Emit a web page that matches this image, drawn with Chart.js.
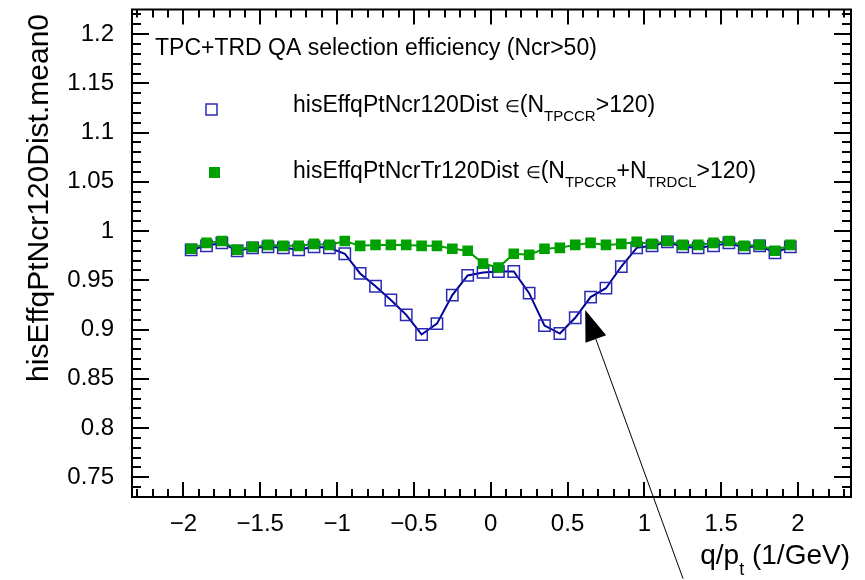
<!DOCTYPE html>
<html>
<head>
<meta charset="utf-8">
<script src="https://cdn.jsdelivr.net/npm/chart.js@4.4.1/dist/chart.umd.min.js"></script>
<style>
  html, body { margin: 0; padding: 0; background: #fff; }
  #wrap { width: 865px; height: 580px; }
</style>
</head>
<body>
<div id="wrap"><canvas id="chart" width="865" height="580"></canvas></div>
<script>
// bin centres in q/pt (1/GeV)
const qOverPt = [
  -1.95, -1.85, -1.75, -1.65, -1.55, -1.45, -1.35, -1.25, -1.15, -1.05,
  -0.95, -0.85, -0.75, -0.65, -0.55, -0.45, -0.35, -0.25, -0.15, -0.05,
   0.05,  0.15,  0.25,  0.35,  0.45,  0.55,  0.65,  0.75,  0.85,  0.95,
   1.05,  1.15,  1.25,  1.35,  1.45,  1.55,  1.65,  1.75,  1.85,  1.95
];

// hisEffqPtNcr120Dist (open blue squares)
const effNcr120 = [
  0.981, 0.985, 0.988, 0.980, 0.983, 0.984, 0.983, 0.981, 0.984, 0.983,
  0.977, 0.957, 0.944, 0.930, 0.915, 0.895, 0.906, 0.935, 0.955, 0.958,
  0.959, 0.959, 0.937, 0.904, 0.896, 0.912, 0.933, 0.942, 0.964, 0.983,
  0.985, 0.989, 0.984, 0.983, 0.985, 0.988, 0.983, 0.985, 0.978, 0.984
];

// hisEffqPtNcrTr120Dist (filled green squares)
const effNcrTr120 = [
  0.982, 0.988, 0.990, 0.981, 0.984, 0.986, 0.985, 0.985, 0.987, 0.986,
  0.990, 0.985, 0.986, 0.986, 0.986, 0.985, 0.985, 0.982, 0.980, 0.967,
  0.963, 0.977, 0.976, 0.982, 0.983, 0.986, 0.988, 0.986, 0.987, 0.989,
  0.987, 0.990, 0.986, 0.986, 0.988, 0.990, 0.985, 0.986, 0.980, 0.986
];

const xTickLabels = [-2, -1.5, -1, -0.5, 0, 0.5, 1, 1.5, 2];
const yTickLabels = [0.75, 0.8, 0.85, 0.9, 0.95, 1, 1.05, 1.1, 1.15, 1.2];

// arrow annotation, tip and tail in data coordinates
const arrowTip = { x: 0.615, y: 0.920 };
const arrowTail = { x: 1.252, y: 0.647 };

const FONT = "'Liberation Sans', Arial, Helvetica, sans-serif";

function toPoints(xs, ys) {
  return xs.map((x, i) => ({ x: x, y: ys[i] }));
}

function fmt(v) {
  return v < 0 ? '\u2212' + String(-v) : String(v);
}

function pieceSize(p, size) {
  if (p.sub) return Math.round(size * 0.65);
  if (p.small) return Math.round(size * 0.75);
  return size;
}

// draws text pieces left to right, pieces with sub:true are subscripts
function drawRich(ctx, pieces, x, y, size) {
  let cx = x;
  pieces.forEach(p => {
    ctx.font = pieceSize(p, size) + 'px ' + FONT;
    ctx.fillText(p.t, cx, p.sub ? y + size * 0.38 : y);
    cx += ctx.measureText(p.t).width;
  });
  return cx;
}

function richWidth(ctx, pieces, size) {
  let w = 0;
  pieces.forEach(p => {
    ctx.font = pieceSize(p, size) + 'px ' + FONT;
    w += ctx.measureText(p.t).width;
  });
  return w;
}

function noPad(axis) {
  axis.paddingTop = 0;
  axis.paddingBottom = 0;
  axis.paddingLeft = 0;
  axis.paddingRight = 0;
}

const rootFrame = {
  id: 'rootFrame',
  afterDraw(chart) {
    const ctx = chart.ctx;
    const a = chart.chartArea;
    const xs = chart.scales.x;
    const ys = chart.scales.y;
    ctx.save();
    ctx.strokeStyle = '#000';
    ctx.fillStyle = '#000';

    // frame
    ctx.lineWidth = 2;
    ctx.strokeRect(a.left, a.top, a.right - a.left, a.bottom - a.top);

    // ticks, pointing inwards, on all four sides
    ctx.lineWidth = 2;
    ctx.beginPath();
    for (let i = -24; i <= 24; i++) {
      const v = i / 10;
      if (v < xs.min || v > xs.max) continue;
      const px = Math.round(xs.getPixelForValue(v));
      const len = i % 5 === 0 ? 15 : 8;
      ctx.moveTo(px, a.bottom); ctx.lineTo(px, a.bottom - len);
      ctx.moveTo(px, a.top); ctx.lineTo(px, a.top + len);
    }
    for (let i = 72; i <= 123; i++) {
      const v = i / 100;
      if (v < ys.min || v > ys.max) continue;
      const py = Math.round(ys.getPixelForValue(v));
      const len = i % 5 === 0 ? 17 : 9;
      ctx.moveTo(a.left, py); ctx.lineTo(a.left + len, py);
      ctx.moveTo(a.right, py); ctx.lineTo(a.right - len, py);
    }
    ctx.stroke();

    // y axis title
    ctx.save();
    ctx.translate(40, 14);
    ctx.rotate(-Math.PI / 2);
    ctx.font = '30px ' + FONT;
    ctx.textAlign = 'right';
    ctx.textBaseline = 'middle';
    ctx.fillText('hisEffqPtNcr120Dist.mean0', 0, 0);
    ctx.restore();

    // x axis title, right aligned
    ctx.textAlign = 'left';
    ctx.textBaseline = 'alphabetic';
    const xTitle = [{ t: 'q/p' }, { t: 't', sub: true }, { t: ' (1/GeV)' }];
    const w = richWidth(ctx, xTitle, 28);
    drawRich(ctx, xTitle, 850 - w, 564, 28);

    // legend block
    ctx.font = '23px ' + FONT;
    ctx.fillText('TPC+TRD QA selection efficiency (Ncr>50)', 155, 55);

    ctx.lineWidth = 1.5;
    ctx.strokeStyle = '#2a2ab5';
    ctx.strokeRect(206, 104, 11, 11);
    ctx.fillStyle = '#00a000';
    ctx.fillRect(209, 167, 11, 11);

    ctx.fillStyle = '#000';
    drawRich(ctx, [
      { t: 'hisEffqPtNcr120Dist ' }, { t: '\u2208', small: true }, { t: '(N' },
      { t: 'TPCCR', sub: true }, { t: '>120)' }
    ], 293, 112, 23);
    drawRich(ctx, [
      { t: 'hisEffqPtNcrTr120Dist ' }, { t: '\u2208', small: true }, { t: '(N' },
      { t: 'TPCCR', sub: true }, { t: '+N' }, { t: 'TRDCL', sub: true }, { t: '>120)' }
    ], 293, 178, 23);

    // arrow
    const tx = xs.getPixelForValue(arrowTip.x), ty = ys.getPixelForValue(arrowTip.y);
    const bx = xs.getPixelForValue(arrowTail.x), by = ys.getPixelForValue(arrowTail.y);
    const dx = tx - bx, dy = ty - by;
    const d = Math.hypot(dx, dy);
    const ux = dx / d, uy = dy / d;
    const hl = 31, hw = 11;
    const mx = tx - ux * hl, my = ty - uy * hl;
    ctx.strokeStyle = '#000';
    ctx.lineWidth = 1;
    ctx.beginPath();
    ctx.moveTo(bx, by); ctx.lineTo(mx, my);
    ctx.stroke();
    ctx.beginPath();
    ctx.moveTo(tx, ty);
    ctx.lineTo(mx - uy * hw, my + ux * hw);
    ctx.lineTo(mx + uy * hw, my - ux * hw);
    ctx.closePath();
    ctx.fill();

    ctx.restore();
  }
};

new Chart(document.getElementById('chart').getContext('2d'), {
  type: 'scatter',
  data: {
    datasets: [
      {
        label: 'hisEffqPtNcrTr120Dist',
        data: toPoints(qOverPt, effNcrTr120),
        showLine: true,
        tension: 0,
        borderColor: '#00a000',
        borderWidth: 2,
        pointStyle: 'rect',
        pointRadius: 7.5,
        pointBackgroundColor: '#00a000',
        pointBorderColor: '#00a000',
        pointBorderWidth: 0,
        order: 0
      },
      {
        label: 'hisEffqPtNcr120Dist',
        data: toPoints(qOverPt, effNcr120),
        showLine: true,
        tension: 0,
        borderColor: '#000099',
        borderWidth: 2,
        pointStyle: 'rect',
        pointRadius: 8,
        pointBackgroundColor: 'rgba(0,0,0,0)',
        pointBorderColor: '#2a2ab5',
        pointBorderWidth: 1.5,
        order: 1
      }
    ]
  },
  options: {
    responsive: false,
    animation: false,
    devicePixelRatio: 1,
    layout: { padding: { top: 5, right: 14, left: 0, bottom: 0 } },
    plugins: {
      legend: { display: false },
      tooltip: { enabled: false }
    },
    scales: {
      x: {
        type: 'linear',
        min: -2.335,
        max: 2.345,
        grid: { display: false },
        border: { display: false },
        afterBuildTicks: axis => { axis.ticks = xTickLabels.map(v => ({ value: v })); },
        afterFit: axis => { axis.height = 83; noPad(axis); },
        ticks: {
          color: '#000',
          font: { size: 24, family: FONT },
          padding: 5,
          maxRotation: 0,
          autoSkip: false,
          callback: v => fmt(v)
        }
      },
      y: {
        type: 'linear',
        min: 0.730,
        max: 1.225,
        grid: { display: false },
        border: { display: false },
        afterBuildTicks: axis => { axis.ticks = yTickLabels.map(v => ({ value: v })); },
        afterFit: axis => { axis.width = 132; noPad(axis); },
        ticks: {
          color: '#000',
          font: { size: 24, family: FONT },
          padding: 10,
          autoSkip: false,
          callback: v => fmt(v)
        }
      }
    }
  },
  plugins: [rootFrame]
});
</script>
</body>
</html>
